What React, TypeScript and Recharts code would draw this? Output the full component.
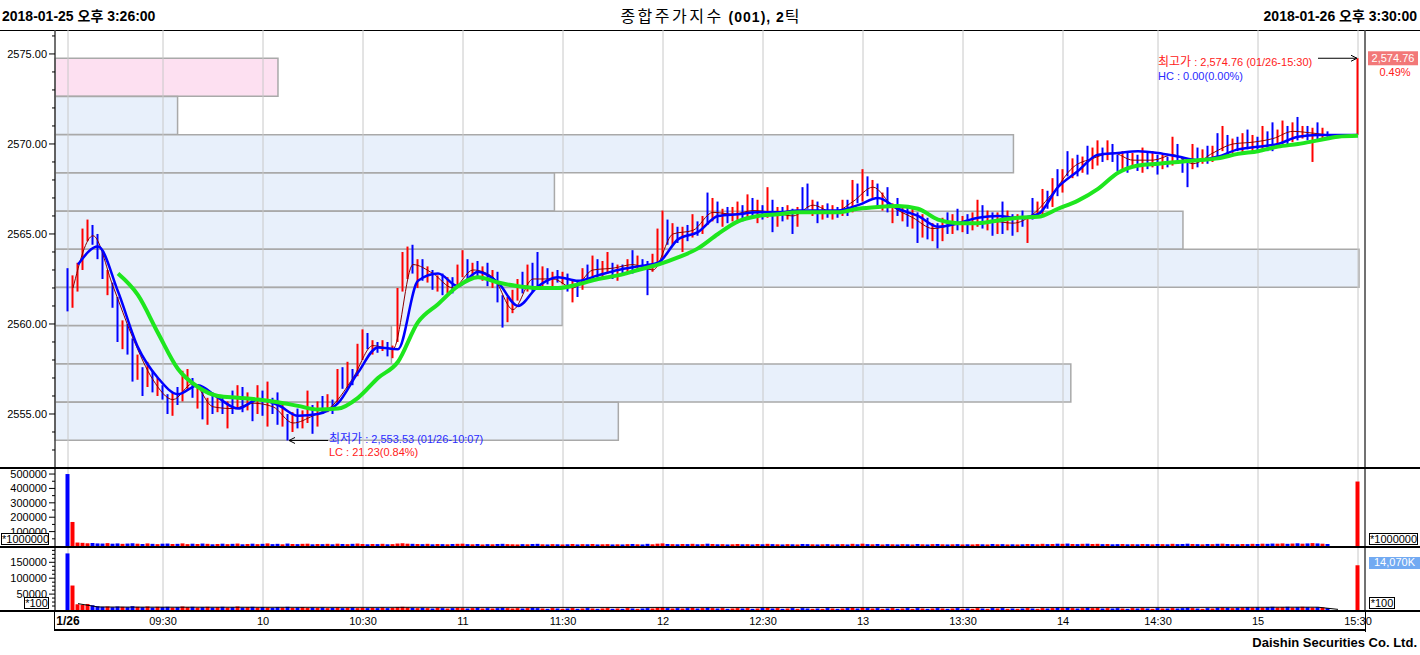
import React from 'react'
import {
  ComposedChart,
  BarChart,
  Bar,
  Line,
  XAxis,
  YAxis,
  CartesianGrid,
  Cell,
  ReferenceDot,
} from 'recharts'

const FONT = '"Liberation Sans", Arial, "Noto Sans CJK KR", sans-serif'
const RED = '#ff0000'
const BLUE = '#0000ff'
const GRID = '#c8c8c8'

const CHART_W = 1420
const AXIS_W = 55
const MAIN_TOP = 30
const MAIN_H = 438
const VOL1_TOP = 468
const VOL1_H = 78
const VOL2_TOP = 548
const VOL2_H = 62
const XLABEL_H = 19

// header / footer
const headerLeft = '2018-01-25 오후 3:26:00'
const headerRight = '2018-01-26 오후 3:30:00'
const titleName = '종합주가지수'
const titleCode = ' (001), 2'
const titleUnit = '틱'
const footerText = 'Daishin Securities Co. Ltd.'

// x axis: one slot per ~1.5 min of 2-tick bars
const X_DOMAIN = [-2.6, 259.4]
const timeTickIdx = [0, 19, 39, 59, 79, 99, 119, 139, 159, 179, 199, 218, 238, 258]
const timeTickLabels = ['1/26', '09:30', '10', '10:30', '11', '11:30', '12', '12:30', '13', '13:30', '14', '14:30', '15', '15:30']

// price axis
const PRICE_DOMAIN = [2552, 2576.33]
const priceTicks = [2553, 2554, 2555, 2556, 2557, 2558, 2559, 2560, 2561, 2562, 2563, 2564,
  2565, 2566, 2567, 2568, 2569, 2570, 2571, 2572, 2573, 2574, 2575, 2576]

const dayHigh = 2574.76
const dayLow = 2553.53
const highIdx = 258
const lowIdx = 44

// candles (open -> close per slot)
const tickOpen = [
  2563.1, 2560.9, 2561.8, 2563.0, 2564.6, 2565.5, 2565.0, 2564.0, 2561.6, 2562.3,
  2561.5, 2558.6, 2560.0, 2559.2, 2556.9, 2557.6, 2556.5, 2557.4, 2556.0, 2556.6,
  2556.1, 2554.9, 2556.5, 2555.7, 2556.3, 2557.0, 2555.3, 2556.4, 2554.4, 2556.2,
  2555.1, 2555.9, 2554.2, 2556.3, 2555.3, 2556.5, 2555.2, 2555.9, 2555.0, 2556.3,
  2554.3, 2555.9, 2556.2, 2554.3, 2555.0, 2554.0, 2555.3, 2554.2, 2554.5, 2555.5,
  2554.3, 2556.0, 2555.1, 2555.8, 2555.6, 2557.6, 2556.4, 2557.5, 2557.1, 2558.0,
  2559.5, 2558.3, 2559.0, 2558.5, 2559.0, 2558.1, 2559.0, 2561.8, 2562.5, 2564.4,
  2562.0, 2563.6, 2562.3, 2563.0, 2561.8, 2562.8, 2561.7, 2562.6, 2562.0, 2562.6,
  2563.6, 2562.5, 2563.5, 2562.4, 2563.4, 2562.0, 2562.9, 2561.6, 2560.1, 2560.6,
  2561.3, 2562.9, 2561.8, 2563.4, 2564.0, 2562.0, 2563.1, 2562.1, 2563.0, 2562.2,
  2562.8, 2561.2, 2562.4, 2561.9, 2563.3, 2562.4, 2563.6, 2562.6, 2562.8, 2563.4,
  2562.4, 2563.3, 2562.8, 2564.1, 2562.9, 2563.6, 2563.5, 2562.9, 2563.3, 2563.6,
  2565.8, 2564.4, 2565.4, 2564.0, 2565.5, 2564.8, 2565.7, 2565.0, 2567.3, 2565.7,
  2566.8, 2565.4, 2566.5, 2565.7, 2565.6, 2566.6, 2565.8, 2567.0, 2565.6, 2566.6,
  2565.9, 2566.9, 2565.4, 2566.5, 2565.8, 2566.4, 2565.4, 2567.6, 2567.8, 2566.0,
  2566.8, 2565.8, 2566.7, 2565.8, 2566.5, 2566.0, 2566.9, 2566.2, 2567.8, 2566.8,
  2568.2, 2567.0, 2567.8, 2566.3, 2567.6, 2565.6, 2567.0, 2565.7, 2566.5, 2565.3,
  2566.2, 2564.8, 2565.9, 2564.6, 2565.6, 2564.6, 2566.2, 2565.0, 2566.4, 2565.1,
  2566.1, 2565.2, 2565.4, 2566.6, 2565.2, 2566.2, 2565.0, 2566.8, 2565.2, 2566.1,
  2565.1, 2566.3, 2564.5, 2567.0, 2565.9, 2566.1, 2567.4, 2566.5, 2568.6, 2567.3,
  2569.6, 2568.1, 2569.4, 2568.4, 2569.9, 2568.6, 2568.8, 2569.8, 2569.1, 2570.0,
  2569.4, 2568.6, 2569.5, 2568.7, 2569.4, 2568.4, 2569.6, 2568.7, 2569.4, 2568.6,
  2569.3, 2568.8, 2570.0, 2569.2, 2569.0, 2568.6, 2569.8, 2568.9, 2569.9, 2569.0,
  2570.6, 2569.6, 2570.5, 2569.5, 2570.4, 2569.5, 2570.8, 2569.6, 2570.4, 2569.7,
  2570.7, 2571.2, 2569.8, 2570.0, 2571.0, 2570.1, 2571.5, 2570.3, 2571.0, 2569.0,
  2571.2, 2570.3, 2570.7, 2570.5, 2570.5, 2570.5, 2570.5, 2570.5, 2570.5,
]
const tickClose = [
  2560.7, 2562.7, 2563.4, 2565.3, 2565.8, 2564.4, 2563.6, 2562.5, 2563.0, 2560.9,
  2559.0, 2560.2, 2558.3, 2556.8, 2558.3, 2556.0, 2557.9, 2556.2, 2557.0, 2555.8,
  2555.0, 2556.2, 2555.5, 2557.4, 2557.5, 2555.9, 2556.6, 2554.7, 2555.9, 2555.0,
  2556.0, 2555.0, 2555.7, 2555.0, 2556.6, 2555.1, 2556.2, 2554.6, 2556.6, 2554.9,
  2556.8, 2555.0, 2554.4, 2555.5, 2553.53, 2555.1, 2554.2, 2555.2, 2556.3, 2553.9,
  2555.7, 2555.0, 2556.1, 2555.0, 2557.5, 2556.4, 2557.9, 2556.6, 2558.9, 2559.7,
  2558.6, 2559.1, 2558.4, 2559.1, 2558.2, 2558.8, 2562.0, 2564.0, 2564.3, 2562.8,
  2563.6, 2562.4, 2563.2, 2561.9, 2562.7, 2561.6, 2562.6, 2561.7, 2563.3, 2564.1,
  2562.4, 2563.4, 2562.6, 2563.2, 2562.1, 2563.0, 2561.2, 2559.8, 2561.5, 2561.9,
  2562.5, 2561.7, 2563.3, 2561.8, 2561.9, 2563.2, 2562.2, 2562.9, 2562.3, 2562.9,
  2561.8, 2562.4, 2561.5, 2563.1, 2562.5, 2563.8, 2562.5, 2563.5, 2564.0, 2562.5,
  2563.3, 2562.7, 2563.6, 2562.8, 2563.8, 2563.0, 2561.6, 2563.9, 2565.3, 2566.3,
  2564.4, 2565.6, 2564.5, 2565.4, 2564.6, 2566.1, 2564.9, 2566.0, 2565.5, 2567.0,
  2565.6, 2566.4, 2565.6, 2566.5, 2566.8, 2565.7, 2567.2, 2566.0, 2566.9, 2565.8,
  2567.6, 2565.1, 2566.5, 2565.7, 2566.6, 2565.0, 2566.5, 2566.3, 2566.4, 2566.9,
  2565.6, 2566.6, 2565.9, 2566.6, 2565.9, 2566.9, 2566.0, 2568.0, 2566.7, 2568.6,
  2567.1, 2568.0, 2566.5, 2567.3, 2566.2, 2566.7, 2566.0, 2566.6, 2565.4, 2566.5,
  2564.5, 2566.1, 2564.7, 2565.6, 2564.2, 2565.9, 2565.0, 2566.1, 2565.2, 2566.0,
  2565.0, 2566.2, 2566.9, 2565.3, 2566.3, 2564.9, 2566.2, 2565.0, 2566.3, 2564.9,
  2566.1, 2565.4, 2566.0, 2565.8, 2566.8, 2567.5, 2566.4, 2568.1, 2567.1, 2568.6,
  2568.2, 2569.2, 2568.2, 2569.3, 2568.3, 2569.8, 2570.2, 2569.0, 2570.2, 2569.0,
  2568.5, 2569.6, 2568.4, 2569.5, 2568.5, 2569.8, 2568.6, 2569.6, 2568.3, 2569.4,
  2568.7, 2570.4, 2568.9, 2568.4, 2567.6, 2570.0, 2568.7, 2569.7, 2568.9, 2569.9,
  2569.3, 2571.0, 2569.4, 2570.3, 2569.6, 2570.6, 2569.7, 2570.5, 2569.6, 2571.0,
  2569.6, 2569.6, 2570.8, 2571.3, 2569.9, 2571.2, 2570.2, 2571.0, 2570.2, 2570.9,
  2570.2, 2570.9, 2570.4, 2570.5, 2570.5, 2570.5, 2570.5, 2570.5, 2574.76,
]

// moving averages, one reading every MA_STEP slots
const MA_STEP = 4
const FAST_START = 1
const MID_START = 2
const SLOW_START = 10
const maFast = [
  2562.0, 2564.9, 2562.1, 2559.2, 2556.9, 2555.8, 2556.7, 2555.4, 2555.3, 2555.6,
  2555.4, 2554.5, 2554.9, 2555.5, 2557.0, 2558.8, 2558.6, 2563.3, 2562.8, 2562.0,
  2563.0, 2562.6, 2560.8, 2562.5, 2562.5, 2562.0, 2563.0, 2563.1, 2563.3, 2563.0,
  2565.0, 2565.2, 2566.2, 2566.1, 2566.3, 2566.2, 2566.0, 2566.6, 2566.2, 2566.8,
  2567.6, 2566.5, 2565.9, 2565.3, 2565.5, 2565.6, 2565.7, 2565.6, 2566.1, 2567.3,
  2568.7, 2569.2, 2569.5, 2569.1, 2569.1, 2569.4, 2568.9, 2569.5, 2570.0, 2570.1,
  2570.3, 2570.7, 2570.6, 2570.5, 2570.5,
]
const maMid = [
  2563.3, 2564.3, 2561.8, 2558.7, 2557.0, 2556.1, 2556.6, 2555.9, 2555.3, 2555.8,
  2555.5, 2554.9, 2555.0, 2555.6, 2557.3, 2558.7, 2558.6, 2562.4, 2562.8, 2562.1,
  2562.9, 2562.3, 2561.0, 2562.1, 2562.6, 2562.4, 2562.7, 2563.0, 2563.2, 2563.4,
  2564.7, 2565.1, 2566.0, 2566.1, 2566.2, 2566.2, 2566.3, 2566.3, 2566.3, 2566.6,
  2567.0, 2566.4, 2566.0, 2565.4, 2565.6, 2565.9, 2566.0, 2565.9, 2566.1, 2567.6,
  2568.5, 2569.4, 2569.5, 2569.6, 2569.5, 2569.3, 2569.1, 2569.3, 2569.7, 2569.85,
  2570.0, 2570.4, 2570.5, 2570.5, 2570.5,
]
const maSlow = [
  2562.8, 2561.6, 2559.5, 2557.5, 2556.5, 2556.0, 2555.9, 2555.8, 2555.65, 2555.45,
  2555.25, 2555.3, 2555.9, 2557.0, 2557.9, 2560.1, 2561.1, 2562.1, 2562.6, 2562.3,
  2562.1, 2562.0, 2562.0, 2562.2, 2562.5, 2562.7, 2563.0, 2563.3, 2563.7, 2564.2,
  2565.0, 2565.7, 2566.0, 2566.1, 2566.2, 2566.2, 2566.2, 2566.4, 2566.5, 2566.55,
  2566.4, 2565.8, 2565.6, 2565.6, 2565.75, 2565.9, 2565.95, 2566.4, 2566.85, 2567.5,
  2568.4, 2568.8, 2568.9, 2569.0, 2569.1, 2569.2, 2569.45, 2569.6, 2569.85, 2570.0,
  2570.2, 2570.4, 2570.45,
]

// volume by price bands, top band first, % of the largest band
const bandShare = [17.1, 9.4, 73.5, 38.3, 86.5, 100, 38.9, 25.8, 77.9, 43.2]
const BAND_COUNT = 10

// upper volume pane (x1000)
const volAmtK = [
  500, 167, 24, 22, 19, 21, 18, 17, 20, 16,
  18, 15, 17, 19, 16, 14, 18, 15, 13, 16,
  17, 14, 15, 18, 13, 16, 14, 17, 15, 12,
  14, 16, 13, 15, 17, 12, 14, 16, 13, 15,
  18, 13, 15, 12, 17, 14, 13, 15, 16, 12,
  14, 13, 15, 12, 16, 14, 13, 15, 17, 14,
  12, 14, 13, 15, 12, 13, 17, 19, 16, 15,
  14, 13, 15, 12, 14, 13, 12, 14, 15, 16,
  13, 12, 14, 11, 13, 12, 14, 15, 13, 12,
  11, 13, 12, 14, 15, 12, 11, 13, 12, 11,
  12, 14, 11, 13, 12, 14, 11, 12, 13, 11,
  12, 11, 13, 14, 12, 11, 15, 12, 16, 18,
  14, 13, 12, 14, 13, 15, 12, 13, 16, 14,
  12, 13, 11, 12, 14, 12, 13, 11, 14, 12,
  15, 13, 12, 11, 13, 12, 11, 14, 13, 12,
  11, 12, 13, 11, 12, 13, 11, 15, 12, 16,
  13, 12, 14, 11, 13, 12, 11, 13, 12, 11,
  14, 12, 11, 13, 14, 12, 11, 12, 13, 11,
  12, 11, 13, 12, 11, 14, 12, 13, 11, 12,
  11, 12, 14, 13, 12, 15, 13, 14, 16, 15,
  17, 14, 13, 15, 16, 14, 15, 13, 14, 12,
  13, 14, 12, 13, 12, 14, 13, 12, 14, 13,
  12, 15, 13, 14, 16, 14, 13, 12, 14, 13,
  15, 16, 14, 13, 12, 14, 13, 15, 14, 16,
  15, 17, 16, 18, 15, 17, 19, 16, 18, 20,
  18, 16, 14, 0, 0, 0, 0, 0, 448,
]
// lower volume pane (x1000)
const volQtyK = [
  178, 77, 18, 16, 19, 15, 12, 10, 11, 9,
  11, 10, 9, 12, 10, 9, 11, 8, 10, 9,
  10, 8, 9, 11, 9, 10, 8, 9, 10, 8,
  9, 10, 8, 9, 11, 8, 9, 10, 8, 9,
  8, 7, 9, 8, 10, 7, 8, 9, 7, 8,
  7, 8, 6, 7, 8, 6, 7, 8, 6, 7,
  6, 7, 6, 8, 6, 7, 9, 10, 8, 7,
  6, 7, 6, 5, 7, 6, 5, 6, 7, 6,
  5, 6, 7, 5, 6, 5, 6, 7, 6, 5,
  6, 5, 6, 7, 6, 5, 4, 6, 5, 4,
  5, 6, 4, 5, 6, 5, 4, 5, 6, 4,
  5, 4, 6, 5, 4, 5, 6, 5, 7, 8,
  6, 5, 6, 5, 6, 7, 5, 6, 7, 6,
  5, 6, 4, 5, 6, 5, 6, 4, 5, 6,
  7, 5, 6, 4, 5, 6, 4, 6, 5, 4,
  5, 4, 6, 5, 4, 5, 6, 7, 5, 7,
  6, 5, 6, 4, 5, 6, 4, 5, 6, 4,
  6, 5, 4, 5, 6, 5, 4, 5, 6, 4,
  5, 4, 6, 5, 4, 6, 5, 6, 4, 5,
  4, 5, 6, 5, 4, 6, 5, 6, 7, 6,
  7, 6, 5, 6, 7, 6, 7, 5, 6, 5,
  6, 5, 4, 6, 5, 6, 5, 4, 6, 5,
  5, 6, 5, 6, 7, 6, 5, 4, 6, 5,
  7, 8, 7, 6, 7, 8, 9, 8, 9, 8,
  9, 10, 8, 9, 10, 8, 9, 10, 9, 8,
  9, 8, 6, 0, 0, 0, 0, 0, 140.7,
]
const VOLAVG_START = 2
const volQtyAvgK = [
  20, 9.5, 9.2, 9.0, 8.9, 8.8, 8.8, 8.7, 8.7, 8.6,
  8.6, 8.5, 8.5, 8.4, 8.4, 8.4, 8.5, 8.5, 8.4, 8.4,
  8.3, 8.3, 8.3, 8.2, 8.2, 8.2, 8.2, 8.1, 8.1, 8.2,
  8.2, 8.2, 8.2, 8.1, 8.1, 8.1, 8.1, 8.0, 8.0, 8.1,
  8.1, 8.0, 8.0, 8.0, 8.0, 8.0, 8.0, 8.0, 8.1, 8.1,
  8.2, 8.2, 8.2, 8.2, 8.2, 8.2, 8.3, 8.4, 8.5, 8.6,
  8.7, 8.8, 8.8, 2,
]
const VOL1_DOMAIN = [0, 542000]
const VOL2_DOMAIN = [0, 195000]
const vol1Ticks = [50000, 100000, 150000, 200000, 250000, 300000, 350000, 400000, 450000, 500000]
const vol2Ticks = [12500, 25000, 37500, 50000, 62500, 75000, 87500, 100000, 112500, 125000,
  137500, 150000, 162500, 175000, 187500]

const lastVolLabel = '14,070K'
const highPct = '0.49%'

function sampled(arr: number[], start: number, i: number) {
  if (i < start || (i - start) % MA_STEP !== 0) return null
  const v = arr[(i - start) / MA_STEP]
  return v === undefined ? null : v
}

const rows = tickOpen.map((o, i) => {
  const c = tickClose[i]
  const avg = sampled(volQtyAvgK, VOLAVG_START, i)
  return {
    i,
    range: [Math.min(o, c), Math.max(o, c)],
    up: c >= o,
    fast: sampled(maFast, FAST_START, i),
    mid: sampled(maMid, MID_START, i),
    slow: sampled(maSlow, SLOW_START, i),
    amt: volAmtK[i] * 1000,
    qty: volQtyK[i] * 1000,
    qtyAvg: avg === null ? null : avg * 1000,
  }
})

const currentBand = Math.min(
  BAND_COUNT - 1,
  Math.floor(((dayHigh - tickClose[tickClose.length - 1]) / (dayHigh - dayLow)) * BAND_COUNT)
)
const bandRows = bandShare.map((v, k) => ({ band: k, share: v }))

function axisTick(side: 'left' | 'right', every: number, maxLabel: number, fmt: (v: number) => string) {
  return (props: any) => {
    const { x, y, payload } = props
    const v = payload.value
    const major = v % every === 0 && v <= maxLabel
    const dir = side === 'left' ? -1 : 1
    const len = major ? 6 : 3
    return (
      <g>
        <line x1={x} x2={x + dir * len} y1={y} y2={y} stroke="#000" />
        {major && (
          <text x={x + dir * 8} y={y + 4} textAnchor={side === 'left' ? 'end' : 'start'} fontSize={11} fill="#000">
            {fmt(v)}
          </text>
        )}
      </g>
    )
  }
}

const priceFmt = (v: number) => v.toFixed(2)
const volFmt = (v: number) => String(v)

const timeTick = (props: any) => {
  const { x, y, payload } = props
  const k = timeTickIdx.indexOf(payload.value)
  const first = k === 0
  return (
    <text x={x} y={y + 15} textAnchor="middle" fontSize={first ? 12 : 11} fontWeight={first ? 'bold' : 'normal'} fill="#000">
      {timeTickLabels[k]}
    </text>
  )
}

const LowMark = (props: any) => {
  const { cx, cy } = props
  return (
    <g>
      <line x1={cx + 1} x2={cx + 40} y1={cy} y2={cy} stroke="#000" />
      <polyline points={`${cx + 7},${cy - 3} ${cx + 1},${cy} ${cx + 7},${cy + 3}`} fill="none" stroke="#000" />
      <text x={cx + 41} y={cy + 3} fill="#2a2aff" fontSize={11}>
        <tspan fontSize={12}>최저가</tspan> : 2,553.53 (01/26-10:07)
      </text>
      <text x={cx + 41} y={cy + 16} fill="#ff2020" fontSize={11}>LC : 21.23(0.84%)</text>
    </g>
  )
}

const HighMark = (props: any) => {
  const { cx, cy } = props
  return (
    <g>
      <line x1={cx - 40} x2={cx - 1} y1={cy} y2={cy} stroke="#000" />
      <polyline points={`${cx - 7},${cy - 3} ${cx - 1},${cy} ${cx - 7},${cy + 3}`} fill="none" stroke="#000" />
      <text x={cx - 200} y={cy + 8} fill="#ff2020" fontSize={11}>
        <tspan fontSize={12}>최고가</tspan> : 2,574.76 (01/26-15:30)
      </text>
      <text x={cx - 200} y={cy + 22} fill="#2a2aff" fontSize={11}>HC : 0.00(0.00%)</text>
      <rect x={cx + 10} y={cy - 7} width={50} height={14} fill="#f27878" />
      <text x={cx + 35} y={cy + 4} fill="#fff" fontSize={11} textAnchor="middle">2,574.76</text>
      <text x={cx + 37} y={cy + 18} fill="#ff2020" fontSize={11} textAnchor="middle">{highPct}</text>
    </g>
  )
}

const hLine = (top: number, left: number, width: number, h: number) => (
  <div style={{ position: 'absolute', top, left, width, height: h, background: '#000' }} />
)
const box = (top: number, left: number, width: number, text: string, bg = '#fff', color = '#000', border = '1px solid #000') => (
  <div
    style={{
      position: 'absolute', top, left, width, height: 12, background: bg, color, border,
      fontSize: 11, lineHeight: '11px', textAlign: 'center', boxSizing: 'border-box',
    }}
  >
    {text}
  </div>
)

export default function App() {
  const bandTop = ((PRICE_DOMAIN[1] - dayHigh) / (PRICE_DOMAIN[1] - PRICE_DOMAIN[0])) * MAIN_H
  const bandBottom = ((dayLow - PRICE_DOMAIN[0]) / (PRICE_DOMAIN[1] - PRICE_DOMAIN[0])) * MAIN_H
  const plotW = CHART_W - 2 * AXIS_W
  const bandRight = CHART_W - AXIS_W - ((highIdx - X_DOMAIN[0]) / (X_DOMAIN[1] - X_DOMAIN[0])) * plotW - 1

  const candleCells = rows.map((r) => <Cell key={r.i} fill={r.up ? RED : BLUE} />)

  return (
    <div style={{ position: 'relative', width: CHART_W, height: 655, background: '#fff', fontFamily: FONT, overflow: 'hidden' }}>
      <style>{'body{margin:0}'}</style>

      {/* header */}
      <div style={{ position: 'absolute', left: 2, top: 5, fontSize: 14, fontWeight: 'bold' }}>{headerLeft}</div>
      <div style={{ position: 'absolute', left: 0, width: CHART_W, top: 3, textAlign: 'center', fontSize: 16 }}>
        <span style={{ letterSpacing: 2.5 }}>{titleName}</span>
        <b style={{ fontSize: 14, letterSpacing: 1 }}>{titleCode}</b>
        <span>{titleUnit}</span>
      </div>
      <div style={{ position: 'absolute', right: 3, top: 5, fontSize: 14, fontWeight: 'bold' }}>{headerRight}</div>
      {hLine(MAIN_TOP, 0, CHART_W, 1)}

      {/* volume-by-price bands */}
      <div style={{ position: 'absolute', left: 0, top: MAIN_TOP }}>
        <BarChart
          width={CHART_W}
          height={MAIN_H}
          layout="vertical"
          data={bandRows}
          barCategoryGap={0}
          margin={{ top: bandTop, bottom: bandBottom, left: AXIS_W, right: bandRight }}
        >
          <XAxis type="number" domain={[0, 100]} hide />
          <YAxis type="category" dataKey="band" hide />
          <Bar dataKey="share" isAnimationActive={false} stroke="#a9a9a9" strokeWidth={1.5}>
            {bandRows.map((b) => (
              <Cell key={b.band} fill={b.band === currentBand ? '#fde0f1' : '#e8f0fb'} />
            ))}
          </Bar>
        </BarChart>
      </div>

      {/* price pane */}
      <div style={{ position: 'absolute', left: 0, top: MAIN_TOP }}>
        <ComposedChart width={CHART_W} height={MAIN_H} data={rows} margin={{ top: 0, right: 0, bottom: 0, left: 0 }}>
          <CartesianGrid horizontal={false} stroke={GRID} />
          <XAxis type="number" dataKey="i" domain={X_DOMAIN} ticks={timeTickIdx} interval={0} hide />
          <YAxis
            yAxisId="L" orientation="left" width={AXIS_W} domain={PRICE_DOMAIN} ticks={priceTicks} interval={0}
            tick={axisTick('left', 5, 2575, priceFmt)} tickSize={0} tickMargin={0} tickLine={false} axisLine={{ stroke: '#000' }}
          />
          <YAxis
            yAxisId="R" orientation="right" width={AXIS_W} domain={PRICE_DOMAIN} ticks={priceTicks} interval={0}
            tick={axisTick('right', 5, 2575, priceFmt)} tickSize={0} tickMargin={0} tickLine={false} axisLine={{ stroke: '#000' }}
          />
          <Bar yAxisId="L" dataKey="range" barSize={2} isAnimationActive={false}>
            {candleCells}
          </Bar>
          <Line yAxisId="L" dataKey="fast" type="monotone" stroke="#8b0000" strokeWidth={1} dot={false} connectNulls isAnimationActive={false} />
          <Line yAxisId="L" dataKey="mid" type="monotone" stroke={BLUE} strokeWidth={2.5} dot={false} connectNulls isAnimationActive={false} />
          <Line yAxisId="L" dataKey="slow" type="monotone" stroke="#1ee61e" strokeWidth={4} dot={false} connectNulls isAnimationActive={false} />
          <ReferenceDot yAxisId="L" x={lowIdx} y={dayLow} r={0} shape={LowMark} ifOverflow="visible" />
          <ReferenceDot yAxisId="L" x={highIdx} y={dayHigh} r={0} shape={HighMark} ifOverflow="visible" />
        </ComposedChart>
      </div>

      {/* upper volume pane */}
      <div style={{ position: 'absolute', left: 0, top: VOL1_TOP }}>
        <ComposedChart width={CHART_W} height={VOL1_H} data={rows} margin={{ top: 0, right: 0, bottom: 0, left: 0 }}>
          <CartesianGrid horizontal={false} stroke={GRID} />
          <XAxis type="number" dataKey="i" domain={X_DOMAIN} ticks={timeTickIdx} interval={0} hide />
          <YAxis
            yAxisId="L" orientation="left" width={AXIS_W} domain={VOL1_DOMAIN} ticks={vol1Ticks} interval={0}
            tick={axisTick('left', 100000, 500000, volFmt)} tickSize={0} tickMargin={0} tickLine={false} axisLine={{ stroke: '#000' }}
          />
          <YAxis
            yAxisId="R" orientation="right" width={AXIS_W} domain={VOL1_DOMAIN} ticks={vol1Ticks} interval={0}
            tick={axisTick('right', 100000, 500000, volFmt)} tickSize={0} tickMargin={0} tickLine={false} axisLine={{ stroke: '#000' }}
          />
          <Bar yAxisId="L" dataKey="amt" barSize={4} isAnimationActive={false}>
            {candleCells}
          </Bar>
        </ComposedChart>
      </div>

      {/* lower volume pane + time axis */}
      <div style={{ position: 'absolute', left: 0, top: VOL2_TOP }}>
        <ComposedChart width={CHART_W} height={VOL2_H + XLABEL_H} data={rows} margin={{ top: 0, right: 0, bottom: 0, left: 0 }}>
          <CartesianGrid horizontal={false} stroke={GRID} />
          <XAxis
            type="number" dataKey="i" domain={X_DOMAIN} ticks={timeTickIdx} interval={0} height={XLABEL_H}
            tick={timeTick} tickSize={0} tickMargin={0} tickLine={false} axisLine={false}
          />
          <YAxis
            yAxisId="L" orientation="left" width={AXIS_W} domain={VOL2_DOMAIN} ticks={vol2Ticks} interval={0}
            tick={axisTick('left', 50000, 150000, volFmt)} tickSize={0} tickMargin={0} tickLine={false} axisLine={{ stroke: '#000' }}
          />
          <YAxis
            yAxisId="R" orientation="right" width={AXIS_W} domain={VOL2_DOMAIN} ticks={vol2Ticks} interval={0}
            tick={axisTick('right', 50000, 150000, volFmt)} tickSize={0} tickMargin={0} tickLine={false} axisLine={{ stroke: '#000' }}
          />
          <Bar yAxisId="L" dataKey="qty" barSize={4} isAnimationActive={false}>
            {candleCells}
          </Bar>
          <Line yAxisId="L" dataKey="qtyAvg" type="linear" stroke="#000" strokeWidth={1} dot={false} connectNulls isAnimationActive={false} />
        </ComposedChart>
      </div>

      {/* pane separators */}
      {hLine(MAIN_TOP + MAIN_H - 1, 0, CHART_W, 2)}
      {hLine(VOL1_TOP + VOL1_H, 0, CHART_W, 2)}
      {hLine(VOL2_TOP + VOL2_H, 0, CHART_W, 2)}
      {hLine(VOL2_TOP + VOL2_H + XLABEL_H, AXIS_W - 1, CHART_W - 2 * AXIS_W + 2, 2)}
      <div style={{ position: 'absolute', left: AXIS_W - 1, top: VOL2_TOP + VOL2_H, width: 1, height: XLABEL_H + 1, background: '#000' }} />
      <div style={{ position: 'absolute', left: CHART_W - AXIS_W, top: VOL2_TOP + VOL2_H, width: 1, height: XLABEL_H + 3, background: '#000' }} />

      {/* unit boxes */}
      {box(533, 1, 48, '*1000000')}
      {box(533, 1369, 49, '*1000000')}
      {box(597, 24, 25, '*100')}
      {box(597, 1369, 26, '*100')}
      {box(557, 1369, 51, lastVolLabel, '#72aaf2', '#fff', 'none')}

      {/* footer */}
      <div style={{ position: 'absolute', right: 3, top: 635, fontSize: 13, fontWeight: 'bold' }}>{footerText}</div>
    </div>
  )
}
